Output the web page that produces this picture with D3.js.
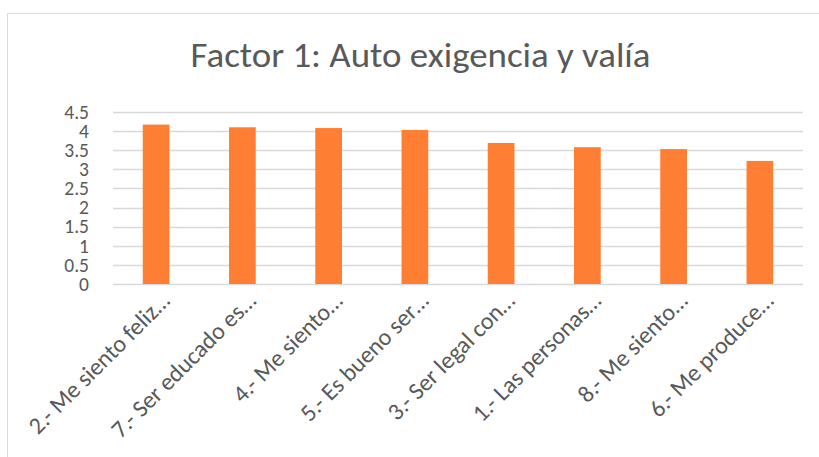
<!DOCTYPE html>
<html>
<head>
<meta charset="utf-8">
<script src="https://cdn.jsdelivr.net/npm/d3@7"></script>
<style>
  body { margin: 0; background: #fff; }
  svg { display: block; }
  text { font-family: Carlito, Calibri, 'Open Sans', sans-serif; fill: #595959; }
</style>
</head>
<body>
<svg width="819" height="457"></svg>
<script>
(function (d3) {
  'use strict';

  const categories = [
    '2.- Me siento feliz…',
    '7.- Ser educado es…',
    '4.- Me siento…',
    '5.- Es bueno ser…',
    '3.- Ser legal con…',
    '1.- Las personas…',
    '8.- Me siento…',
    '6.- Me produce…'
  ];
  const values = [4.17, 4.10, 4.08, 4.03, 3.69, 3.58, 3.53, 3.22];
  const yTicks = [0, 0.5, 1, 1.5, 2, 2.5, 3, 3.5, 4, 4.5];
  const title = 'Factor 1: Auto exigencia y valía';

  const svg = d3.select('svg');
  const left = 113, right = 803, top = 112, bottom = 284;

  // chart area frame (only top and left edges are visible)
  svg.append('path')
    .attr('d', 'M7.5,457 V13.5 H819')
    .attr('fill', 'none')
    .attr('stroke', '#d9d9d9')
    .attr('stroke-width', 1);

  svg.append('text')
    .attr('x', (190 + 651) / 2)
    .attr('y', 67)
    .attr('text-anchor', 'middle')
    .attr('font-size', 35)
    .attr('textLength', 460)
    .attr('lengthAdjust', 'spacingAndGlyphs')
    .text(title);

  const x = d3.scaleBand()
    .domain(categories)
    .range([left, right])
    .paddingInner(0.69)
    .paddingOuter(0.345);

  const y = d3.scaleLinear()
    .domain([0, 4.5])
    .range([bottom, top]);

  // gridlines
  svg.append('g')
    .selectAll('line')
    .data(yTicks)
    .join('line')
    .attr('x1', left)
    .attr('x2', right)
    .attr('y1', d => Math.round(y(d)) + 0.5)
    .attr('y2', d => Math.round(y(d)) + 0.5)
    .attr('stroke', '#d9d9d9')
    .attr('stroke-width', 1.5);

  // bars
  svg.append('g')
    .selectAll('rect')
    .data(values)
    .join('rect')
    .attr('x', (d, i) => x(categories[i]))
    .attr('width', x.bandwidth())
    .attr('y', d => y(d))
    .attr('height', d => bottom - y(d))
    .attr('fill', '#fe7f33');

  // y axis labels
  const yAxis = svg.append('g')
    .attr('transform', `translate(${left},0)`)
    .call(d3.axisLeft(y).tickValues(yTicks).tickSize(0).tickPadding(24).tickFormat(d3.format('')));
  yAxis.select('.domain').remove();
  yAxis.selectAll('text')
    .attr('font-size', 19.5)
    .attr('fill', '#595959')
    .attr('font-family', "Carlito, Calibri, 'Open Sans', sans-serif");

  // x axis labels, rotated
  svg.append('g')
    .selectAll('text')
    .data(categories)
    .join('text')
    .attr('transform', d => `translate(${x(d) + x.bandwidth() / 2 + 3},${bottom + 6}) rotate(-45)`)
    .attr('text-anchor', 'end')
    .attr('dy', '0.72em')
    .attr('font-size', 24)
    .text(d => d);

}(d3));
</script>
</body>
</html>
